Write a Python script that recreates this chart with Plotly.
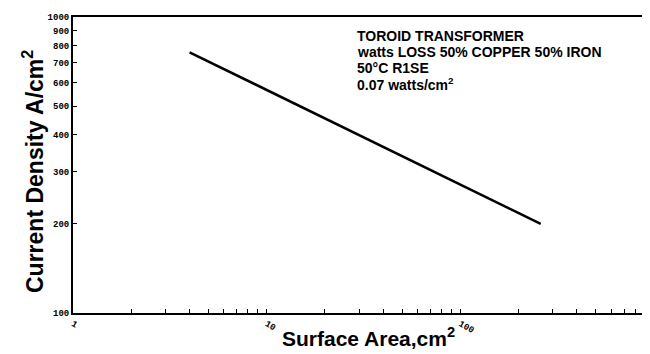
import plotly.graph_objects as go

# Data
surface_area = [4, 260]          # cm^2
current_density = [760, 200]     # A/cm^2

y_tickvals = [100, 200, 300, 400, 500, 600, 700, 800, 900, 1000]
y_ticktext = ["<b>%d</b>" % v for v in y_tickvals]
x_tickvals = [1, 2, 3, 4, 5, 6, 7, 8, 9,
              10, 20, 30, 40, 50, 60, 70, 80, 90,
              100, 200, 300, 400, 500, 600, 700, 800, 900, 1000]
x_ticktext = ["<b>1</b>", " ", " ", " ", " ", " ", " ", " ", " ",
              "<b>10</b>", " ", " ", " ", " ", " ", " ", " ", " ",
              "<b>100</b>", " ", " ", " ", " ", " ", " ", " ", " ", " "]

note_lines = ["TOROID TRANSFORMER",
              "watts LOSS 50% COPPER 50% IRON",
              "50°C R1SE",
              "0.07 watts/cm<sup>2</sup>"]

L, R, T, B = 65, 646, 9, 305
W, H = 650, 354
pw, ph = R - L, B - T

fig = go.Figure()
fig.add_trace(go.Scatter(x=surface_area, y=current_density, mode="lines",
                         line=dict(color="black", width=2.5), showlegend=False))

tickfont = dict(family="Liberation Mono", size=9, color="black")

fig.update_xaxes(type="log", range=[0, 3], tickmode="array",
                 tickvals=x_tickvals, ticktext=x_ticktext,
                 ticks="inside", ticklen=4, tickwidth=1, tickcolor="#000000",
                 showline=True, linecolor="#000000", linewidth=2, mirror=True,
                 showgrid=False, zeroline=False, tickfont=tickfont)
fig.update_yaxes(type="log", range=[2, 3], tickmode="array",
                 tickvals=y_tickvals, ticktext=y_ticktext,
                 ticks="inside", ticklen=4, tickwidth=1, tickcolor="#000000",
                 showline=True, linecolor="#000000", linewidth=2, mirror=True,
                 showgrid=False, zeroline=False, tickfont=tickfont)

fig.add_annotation(text="<b>Surface Area,cm<sup>2</sup></b>", xref="paper", yref="paper",
                   x=(360 - L) / pw, y=(B - 329) / ph, xanchor="center", yanchor="middle",
                   showarrow=False,
                   font=dict(family="Liberation Sans", size=21, color="black"))
fig.add_annotation(text="<b>Current Density A/cm<sup>2</sup></b>", xref="paper", yref="paper",
                   x=(25 - L) / pw, y=(B - 164) / ph, xanchor="center", yanchor="middle",
                   textangle=-90, showarrow=False,
                   font=dict(family="Liberation Sans", size=23, color="black"))
note_y = [28, 44, 60, 76]
for line, yc in zip(note_lines, note_y):
    fig.add_annotation(text="<b>" + line + "</b>", xref="paper", yref="paper",
                       x=(348 - L) / pw, y=(B - yc) / ph, xanchor="left", yanchor="middle",
                       align="left", showarrow=False, borderpad=0,
                       font=dict(family="Liberation Sans", size=14, color="black"))

fig.update_layout(width=W, height=H,
                  margin=dict(l=L, r=W - R, t=T, b=H - B, autoexpand=False),
                  plot_bgcolor="white", paper_bgcolor="white")

fig.write_html("out.html")
